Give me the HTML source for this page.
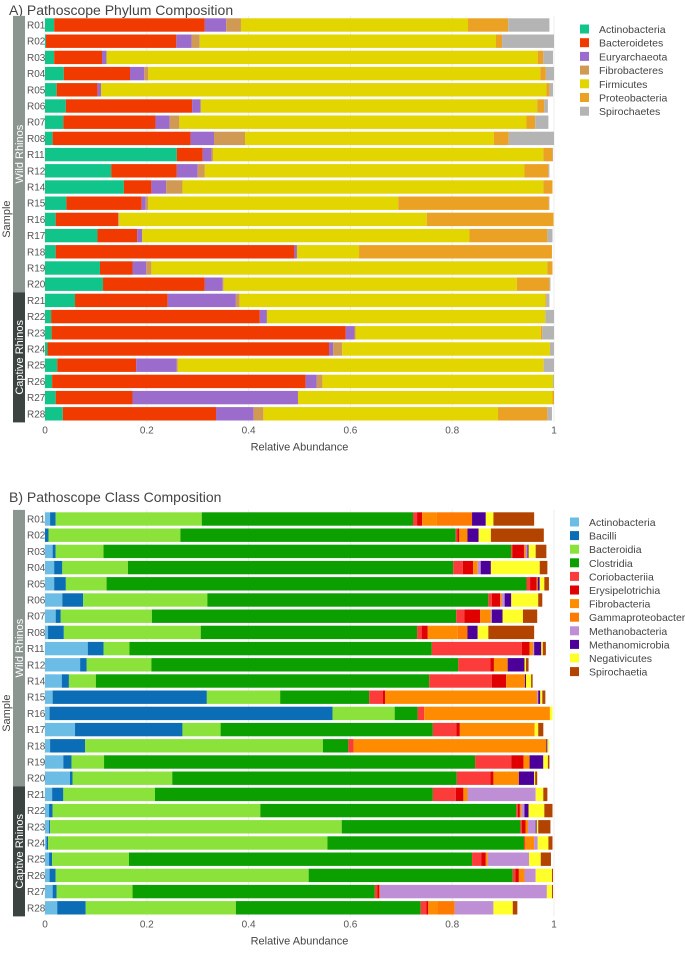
<!DOCTYPE html>
<html><head><meta charset="utf-8"><style>
body{margin:0;background:#fff;font-family:"Liberation Sans","DejaVu Sans",sans-serif;}
svg text{font-family:"Liberation Sans","DejaVu Sans",sans-serif;}
</style></head><body>
<svg id="chart" width="685" height="971" viewBox="0 0 685 971" xmlns="http://www.w3.org/2000/svg"></svg>
<script>
const samples=["R01","R02","R03","R04","R05","R06","R07","R08","R11","R12","R14","R15","R16","R17","R18","R19","R20","R21","R22","R23","R24","R25","R26","R27","R28"];
const xTicks=[0,0.2,0.4,0.6,0.8,1];
const xTickLabels=["0","0.2","0.4","0.6","0.8","1"];
const phyla=["Actinobacteria","Bacteroidetes","Euryarchaeota","Fibrobacteres","Firmicutes","Proteobacteria","Spirochaetes"];
const phylaColors=["#10c48a","#f03a00","#9b6ccc","#d09a55","#e2d500","#eba224","#b4b4b4"];
const actinobacteriaA=[.018,.002,.018,.037,.023,.041,.036,.015,.259,.130,.155,.042,.021,.103,.021,.108,.114,.059,.012,.013,.005,.024,.014,.021,.035];
const bacteroidetesA=[.296,.256,.094,.130,.080,.248,.181,.271,.051,.129,.054,.148,.123,.078,.469,.064,.200,.182,.410,.578,.553,.155,.498,.151,.301];
const euryarchaeotaA=[.042,.030,.009,.028,.007,.017,.028,.046,.017,.041,.029,.008,.001,.010,.005,.027,.035,.134,.014,.017,.008,.080,.022,.325,.074];
const fibrobacteresA=[.029,.016,0,.008,0,0,.019,.061,.003,.014,.032,.005,0,0,0,.010,.002,.007,0,.002,.018,.002,.011,0,.019];
const firmicutesA=[.446,.582,.847,.770,.875,.661,.682,.489,.649,.628,.709,.491,.605,.643,.122,.778,.576,.601,.547,.364,.408,.718,.453,.500,.461];
const proteobacteriaA=[.079,.012,.011,.011,.006,.014,.017,.029,.018,.047,.018,.296,.249,.153,.379,.010,.064,.002,0,.003,0,.001,0,.003,.097];
const spirochaetesA=[.081,.102,.019,.016,.007,.007,.026,.089,.001,.002,0,.001,0,.010,0,0,.002,.006,.017,.023,.008,.020,.002,0,.009];
const classes=["Actinobacteria","Bacilli","Bacteroidia","Clostridia","Coriobacteriia","Erysipelotrichia","Fibrobacteria","Gammaproteobacteria","Methanobacteria","Methanomicrobia","Negativicutes","Spirochaetia"];
const classColors=["#6bbde6","#0a6db5","#8be23a","#0ba000","#fc3b3b","#e00000","#ff8c00","#ff7a00","#bf8fd6","#4c0099","#ffff2a","#b24400"];
const actinobacteriaB=[.010,0,.015,.018,.018,.034,.021,.006,.084,.069,.033,.015,.009,.059,.010,.036,.049,.014,.008,.008,.003,.008,.009,.015,.024];
const bacilliB=[.011,.007,.006,.016,.023,.041,.010,.031,.031,.013,.014,.303,.556,.211,.069,.016,.005,.022,.007,.002,.003,.006,.012,.008,.056];
const bacteroidiaB=[.287,.259,.094,.129,.080,.244,.179,.269,.051,.127,.053,.144,.122,.075,.467,.064,.196,.180,.408,.573,.549,.151,.497,.149,.295];
const clostridiaB=[.415,.541,.801,.639,.825,.552,.598,.425,.594,.603,.655,.175,.045,.417,.050,.729,.559,.546,.503,.351,.386,.674,.401,.476,.363];
const coriobacteriiaB=[.008,.003,.002,.019,.007,.007,.016,.009,.177,.063,.123,.027,.013,.046,.010,.071,.066,.045,.003,.003,.002,.018,.005,.005,.011];
const erysipelotrichiaB=[.010,.004,.023,.020,.013,.016,.031,.012,.015,.007,.028,.004,0,.007,0,.024,.006,.015,.004,.007,0,.009,.007,.004,.004];
const fibrobacteriaB=[.029,.016,.003,.009,.002,.003,.021,.059,.007,.027,.037,.299,.247,.147,.379,.012,.050,.008,.003,.005,.018,.004,.011,.001,.018];
const gammaproteobacteriaB=[.069,0,0,0,0,0,0,.019,0,0,0,0,0,0,0,0,0,0,0,0,0,0,0,0,.034];
const methanobacteriaB=[0,0,.004,.006,0,.006,.002,0,.002,0,0,.002,0,0,0,0,0,.134,.006,.015,.007,.081,.022,.328,.076];
const methanomicrobiaB=[.027,.022,.002,.020,.004,.013,.021,.020,.014,.033,.002,.004,0,0,.002,.027,.030,0,.008,.002,0,0,0,0,0];
const negativicutesB=[.015,.024,.014,.096,.009,.053,.040,.021,.003,.003,.010,.004,.005,.007,.003,.009,.002,.015,.031,.003,.021,.023,.032,.010,.038];
const spirochaetiaB=[.080,.104,.021,.015,.009,.008,.028,.090,.006,.005,.003,.006,0,.010,0,.003,.004,.008,.016,.024,.008,.020,.002,.002,.009];

const svg=document.getElementById('chart');
const NS="http://www.w3.org/2000/svg";
function mk(tag,attrs,parent){const e=document.createElementNS(NS,tag);for(const k in attrs)e.setAttribute(k,attrs[k]);(parent||svg).appendChild(e);return e;}
const X0=45,X1=554;
function xs(v){return X0+(X1-X0)*v;}
const pitch=16.2, barH=13.4;

function panel(opts){
  const g=mk('g',{});
  
  
  const t=mk('text',{x:9,y:opts.titleY,'font-size':14,fill:'#444'},g);
  t.textContent=opts.title;
  
  
  const top=opts.r0-pitch/2-1, bottom=opts.r0+pitch*24+pitch/2+0.5;
  xTicks.forEach((v,i)=>{
    const l=mk('line',{x1:xs(v),x2:xs(v),y1:top,y2:bottom,stroke:'#ececec','stroke-width':1},g);
    
    
    const tl=mk('text',{x:xs(v),y:bottom+11,'font-size':10,fill:'#555','text-anchor':'middle'},g);
    tl.textContent=xTickLabels[i];
    
    
  });
  const at=mk('text',{x:(X0+X1)/2,y:bottom+28,'font-size':11,fill:'#444','text-anchor':'middle'},g);
  at.textContent='Relative Abundance';
  
  
  const wildEnd=opts.r0+pitch*16+pitch/2;
  const ws=mk('rect',{x:13,y:top,width:12,height:wildEnd-top,fill:'#8c9691'},g);
  
  
  const cs=mk('rect',{x:13,y:wildEnd,width:12,height:bottom-wildEnd,fill:'#3b4441'},g);
  
  
  const wt=mk('text',{x:0,y:0,'font-size':11,fill:'#fff','text-anchor':'middle',transform:`translate(23,${(top+wildEnd)/2}) rotate(-90)`},g);
  wt.textContent='Wild Rhinos';
  
  
  const ct=mk('text',{x:0,y:0,'font-size':11,fill:'#fff','text-anchor':'middle',transform:`translate(23,${(wildEnd+bottom)/2}) rotate(-90)`},g);
  ct.textContent='Captive Rhinos';
  
  
  const st=mk('text',{x:0,y:0,'font-size':11,fill:'#444','text-anchor':'middle',transform:`translate(10,${(top+bottom)/2}) rotate(-90)`},g);
  st.textContent='Sample';
  
  
  samples.forEach((s,i)=>{
    const cy=opts.r0+pitch*i;
    const lb=mk('text',{x:27,y:cy+3.5,'font-size':10,fill:'#555'},g);
    lb.textContent=s;
    
    
    let cum=0;
    opts.series.forEach((arr,k)=>{
      const v=arr[i];
      if(v>0){
        const r=mk('rect',{x:xs(cum),y:cy-barH/2,width:xs(cum+v)-xs(cum),height:barH,fill:opts.colors[k]},g);
        
        
      }
      cum+=v;
    });
  });
  opts.labels.forEach((lab,k)=>{
    const y=opts.legY+opts.legStep*k;
    const sw=mk('rect',{x:opts.swX,y:y-4.5,width:9,height:9,fill:opts.colors[k]},g);
    
    
    const lt=mk('text',{x:opts.swX+19,y:y+4,'font-size':10.5,fill:'#444'},g);
    lt.textContent=lab;
    
    
  });
}
panel({name:'phylum-panel',title:'A) Pathoscope Phylum Composition',titleY:15,r0:25,
  series:[actinobacteriaA,bacteroidetesA,euryarchaeotaA,fibrobacteresA,firmicutesA,proteobacteriaA,spirochaetesA],
  colors:phylaColors,labels:phyla,legY:29,legStep:13.7,swX:580});
panel({name:'class-panel',title:'B) Pathoscope Class Composition',titleY:502,r0:519,
  series:[actinobacteriaB,bacilliB,bacteroidiaB,clostridiaB,coriobacteriiaB,erysipelotrichiaB,fibrobacteriaB,gammaproteobacteriaB,methanobacteriaB,methanomicrobiaB,negativicutesB,spirochaetiaB],
  colors:classColors,labels:classes,legY:522,legStep:13.6,swX:570});
</script>
</body></html>
